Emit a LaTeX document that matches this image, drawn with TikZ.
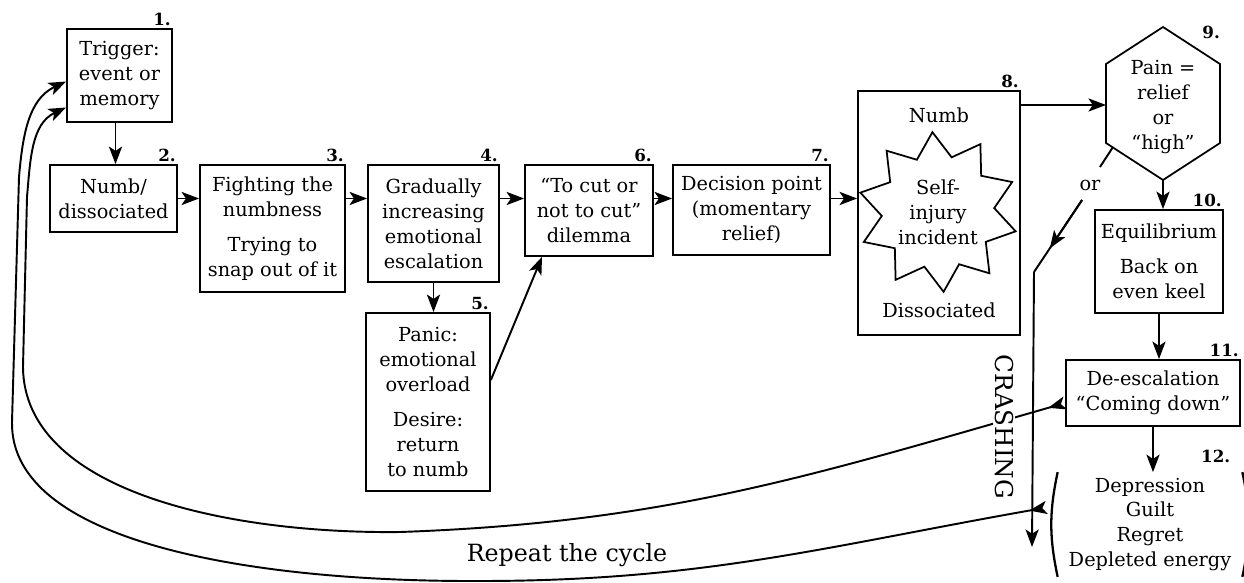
\documentclass[tikz,border=0pt]{standalone}
\usepackage{fontspec}
\setmainfont{DejaVu Serif}
\usetikzlibrary{positioning,arrows.meta,calc,shapes.geometric}

\begin{document}
\begin{tikzpicture}[x=0.2mm, y=0.2mm,
  box/.style={draw, line width=1pt, inner sep=1pt, align=center, font=\fontsize{11}{14.2}\selectfont},
  txt/.style={inner sep=1pt, align=center, font=\fontsize{11}{14.2}\selectfont},
  num/.style={font=\fontsize{9.5}{10}\selectfont\bfseries, anchor=south east, inner sep=1pt},
  arr/.style={-{Stealth[length=10pt, width=7.5pt, inset=2.5pt]}, line width=1.1pt},
  cyc/.style={{Stealth[reversed, length=10pt, width=7.5pt, inset=2.5pt]}-{Stealth[length=10pt, width=7.5pt, inset=2.5pt]}, line width=1.1pt},
]
\useasboundingbox (0,0) rectangle (1244,582);
% Steps
\node[box, minimum width=2.1cm, minimum height=1.86cm] (b1) at (119.5,506.5) {Trigger:\\event or\\memory};
\node[box, minimum width=2.54cm, minimum height=1.34cm] (b2) at (113.5,383.5) {Numb/\\dissociated};
\node[box, minimum width=2.9cm, minimum height=2.54cm] (b3) at (272.5,353.5) {Fighting the\\numbness\\[6pt]Trying to\\snap out of it};
\node[box, minimum width=2.62cm, minimum height=2.34cm] (b4) at (433.5,358.5) {Gradually\\increasing\\emotional\\escalation};
\node[box, minimum width=2.48cm, minimum height=3.56cm] (b5) at (428,180) {Panic:\\emotional\\overload\\[6pt]Desire:\\return\\to numb};
\node[box, minimum width=2.56cm, minimum height=1.82cm] (b6) at (589,371.5) {``To cut or\\not to cut''\\dilemma};
\node[box, minimum width=3.14cm, minimum height=1.8cm] (b7) at (751.5,372) {Decision point\\(momentary\\relief)};
\node[box, minimum width=3.24cm, minimum height=4.88cm] (b8) at (939,369) {};
\node[txt] (numb) at (939,467) {Numb};
\node[star, star points=10, star point ratio=1.42, minimum size=3.2cm, shape border rotate=4, draw, line width=1pt, inner sep=0pt, align=center, font=\fontsize{11}{14.2}\selectfont] (si) at (938,370) {Self-\\injury\\incident};
\node[txt] (diss) at (939,272) {Dissociated};
% Hexagon
\coordinate (c9) at (1163,478);
\draw[line width=1pt] ($(c9)+(0,77)$) -- ($(c9)+(57,40)$) -- ($(c9)+(57,-39)$) -- ($(c9)+(0,-76)$) -- ($(c9)+(-57,-39)$) -- ($(c9)+(-57,40)$) -- cycle;
\coordinate (h9w) at ($(c9)+(-57,-1)$);
\coordinate (h9s) at ($(c9)+(0,-76)$);
\coordinate (h9or) at ($(c9)+(-50,-43)$);
\node[txt] (p9) at (1163,475) {Pain =\\relief\\or\\``high''};
\node[box, minimum width=2.56cm, minimum height=2.06cm] (b10) at (1159,320.5) {Equilibrium\\[6pt]Back on\\even keel};
\node[box, minimum width=3.48cm, minimum height=1.32cm] (b11) at (1153,189) {De-escalation\\``Coming down''};
\node[txt, minimum width=3.68cm, minimum height=2.08cm] (p12) at (1150,57.5) {Depression\\Guilt\\Regret\\Depleted energy};
\draw[line width=1.3pt] (p12.north west) to[bend right=12] (p12.south west);
\draw[line width=1.3pt] (p12.north east) to[bend left=12] (p12.south east);
% Numbers
\foreach \n/\lbl in {b1/1, b2/2, b3/3, b4/4, b5/5, b6/6, b7/7, b8/8, b10/10, b11/11}
  \node[num] at (\n.north east) {\lbl.};
\node[num] at ($(c9)+(59,63)$) {9.};
\node[num] at ($(p12.north east)+(-10,7)$) {12.};
% Arrows
\draw[arr] ($(b1.south)+(-4,0)$) -- ($(b1.south |- b2.north)+(-4,0)$);
\foreach \a/\b in {b2/b3, b3/b4, b4/b6, b6/b7, b7/b8}
  \draw[arr] (b2.east -| \a.east) -- (b2.east -| \b.west);
\draw[arr] (b4.south) -- (b4.south |- b5.north);
\draw[arr] ($(b5.east)+(0,22)$) -- ($(b6.south)+(-47,0)$);
\draw[arr] (b8.north east |- h9w) -- (h9w);
\draw[arr] (h9s) -- (h9s |- b10.north);
\draw[arr] (b10.south) -- (b10.south |- b11.north);
\draw[arr] (b11.south) -- (b11.south |- p12.north);
% Crashing
\node[txt] (orlbl) at (1090,397) {or};
\coordinate (crA) at (1082,382);
\coordinate (crB) at (1034,310);
\coordinate (crC) at (1032,35);
\draw[line width=1.1pt] (h9or) -- (1100,415);
\draw[line width=1.1pt] (crA) -- (crB);
\draw[arr] (crA) -- ($(crA)!0.67!(crB)$);
\draw[arr] (crB) -- (crC);
% Repeat the cycle
\draw[cyc] ($(b11.west)+(0,-10)$) to[out=196, in=2] (400,50) .. controls (230,48) and (24,90) .. (23,215) -- (27,385) to[out=85, in=205] ($(b1.west)+(0,-32)$);
\draw[cyc] ($(p12.west)+(-11,17)$) to[out=190, in=0] (480,1) .. controls (250,0) and (10,40) .. (12,160) -- (19,405) to[out=85, in=205] ($(b1.west)+(0,-6)$);
\node[font=\fontsize{14}{16}\selectfont, rotate=-90, fill=white, inner sep=1pt] (crash) at (1004,155) {CRASHING};
\node[font=\fontsize{13.5}{16}\selectfont] (rep) at (567,27) {Repeat the cycle};
\end{tikzpicture}
\end{document}
